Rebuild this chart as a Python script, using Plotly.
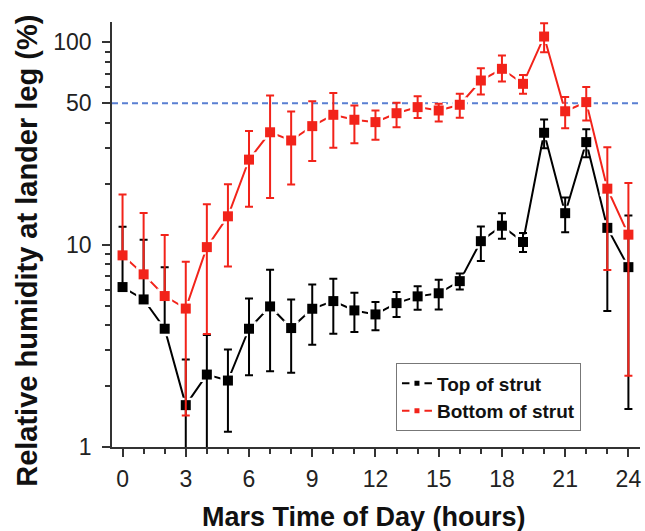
import plotly.graph_objects as go

# ---- data ----
hours = list(range(25))

top_rh = [6.17, 5.36, 3.84, 1.61, 2.28, 2.13, 3.84, 4.95, 3.87, 4.82, 5.26, 4.73, 4.52,
          5.14, 5.55, 5.75, 6.6, 10.4, 12.4, 10.3, 35.7, 14.3, 32.1, 12.1, 7.74]
top_err_plus = [6.1, 5.2, 3.9, 1.1, 1.3, 0.9, 1.57, 2.57, 1.49, 1.54, 1.53, 1.06, 0.68,
                0.69, 0.67, 0.96, 0.6, 1.9, 1.9, 1.1, 5.8, 2.8, 5.1, 7.4, 6.2]
top_err_minus = [0, 0, 0, 1.1, 1.3, 0.94, 1.58, 2.58, 1.54, 1.62, 1.63, 1.03, 0.75,
                 0.75, 0.78, 0.97, 0.6, 2.1, 1.7, 1.1, 5.8, 2.8, 5.1, 7.4, 6.2]

bottom_rh = [8.85, 7.13, 5.57, 4.83, 9.72, 13.8, 26.3, 35.9, 32.7, 38.5, 43.8, 41.4, 40.3,
             44.6, 47.8, 46.0, 49.1, 64.7, 73.9, 62.3, 106.7, 45.6, 50.6, 18.9, 11.2]
bottom_err_plus = [8.85, 7.2, 5.6, 3.4, 6.1, 6.1, 10.1, 18.6, 12.8, 12.6, 12.4, 7.3, 5.7,
                   5.6, 6.3, 3.6, 6.5, 9.7, 12.1, 6.5, 17.3, 8.0, 9.5, 11.4, 8.95]
bottom_err_minus = [0, 0, 0, 3.4, 6.1, 6.0, 10.9, 18.9, 12.9, 12.6, 13.7, 9.7, 7.3,
                    6.6, 5.6, 5.4, 6.7, 9.5, 10.0, 6.7, 17.4, 8.0, 9.5, 11.4, 8.95]

x_tick_vals = [0, 3, 6, 9, 12, 15, 18, 21, 24]
x_minor_vals = [h for h in hours if h % 3 != 0]
y_tick_vals = [1, 10, 50, 100]
y_tick_text = ["1", "10", "50", "100"]
y_minor_vals = [2, 3, 4, 5, 6, 7, 8, 9, 20, 30, 40, 60, 70, 80, 90]
threshold_rh = 50

series_names = ["Top of strut", "Bottom of strut"]
BLACK = "#000000"
RED = "#f2231a"
FONT = "Liberation Sans"

fig = go.Figure()


def line_trace(y, color, name):
    return go.Scatter(
        x=hours, y=y, mode="lines+markers", name=name,
        line=dict(color=color, width=2),
        marker=dict(symbol="square", size=10, color=color,
                    line=dict(color="white", width=5)),
        hoverinfo="skip",
    )


def bar_trace(y, plus, minus, color, name):
    return go.Scatter(
        x=hours, y=y, mode="markers", name=name, showlegend=False,
        marker=dict(symbol="square", size=10, color=color),
        error_y=dict(type="data", symmetric=False, array=plus, arrayminus=minus,
                     color=color, thickness=2, width=4),
    )


fig.add_trace(line_trace(top_rh, BLACK, series_names[0]))
fig.add_trace(line_trace(bottom_rh, RED, series_names[1]))
fig.add_trace(bar_trace(top_rh, top_err_plus, top_err_minus, BLACK, series_names[0]))
fig.add_trace(bar_trace(bottom_rh, bottom_err_plus, bottom_err_minus, RED, series_names[1]))

fig.add_hline(y=threshold_rh, line=dict(color="#5a7fd2", width=2, dash="6px,4px"),
              layer="below")

axis_common = dict(
    showgrid=False, zeroline=False, showline=True, linecolor="#333", linewidth=1.5,
    ticks="outside", ticklen=8, tickwidth=1.5, tickcolor="#333",
    tickfont=dict(family=FONT, size=23, color="#222"),
)

fig.update_xaxes(
    range=[-0.5, 24.55], tickmode="array", tickvals=x_tick_vals,
    ticktext=[str(v) for v in x_tick_vals], ticklabelstandoff=3,
    minor=dict(tickmode="array", tickvals=x_minor_vals, ticks="outside", ticklen=5,
               tickwidth=1.5, tickcolor="#333", showgrid=False),
    **axis_common,
)
fig.update_yaxes(
    type="log", range=[0, 2.1], tickmode="array", tickvals=y_tick_vals,
    ticktext=y_tick_text, ticklabelstandoff=6,
    minor=dict(tickmode="array", tickvals=y_minor_vals, ticks="outside", ticklen=5,
               tickwidth=1.5, tickcolor="#333", showgrid=False),
    **axis_common,
)

fig.add_annotation(text="Mars Time of Day (hours)", xref="paper", yref="paper",
                   x=0.4766, y=-0.1654, showarrow=False, xanchor="center", yanchor="middle",
                   font=dict(family=FONT, size=27, color="#111", weight="bold"))
fig.add_annotation(text="Relative humidity at lander leg (%)", xref="paper", yref="paper",
                   x=-0.160, y=0.4605, showarrow=False, textangle=-90,
                   xanchor="center", yanchor="middle",
                   font=dict(family=FONT, size=29, color="#111", weight="bold"))

fig.update_layout(
    width=645, height=531,
    margin=dict(l=112, r=5, t=22, b=84),
    plot_bgcolor="white", paper_bgcolor="white",
    showlegend=True,
    legend=dict(x=0.713, y=0.117, xanchor="center", yanchor="middle",
                bgcolor="white", bordercolor="#777", borderwidth=1,
                font=dict(family=FONT, size=19, color="#111", weight="bold"),
                tracegroupgap=0),
)

fig.write_html("out.html", config={"displayModeBar": False},
               post_script="document.body.style.margin='0';document.body.style.overflow='hidden';")
